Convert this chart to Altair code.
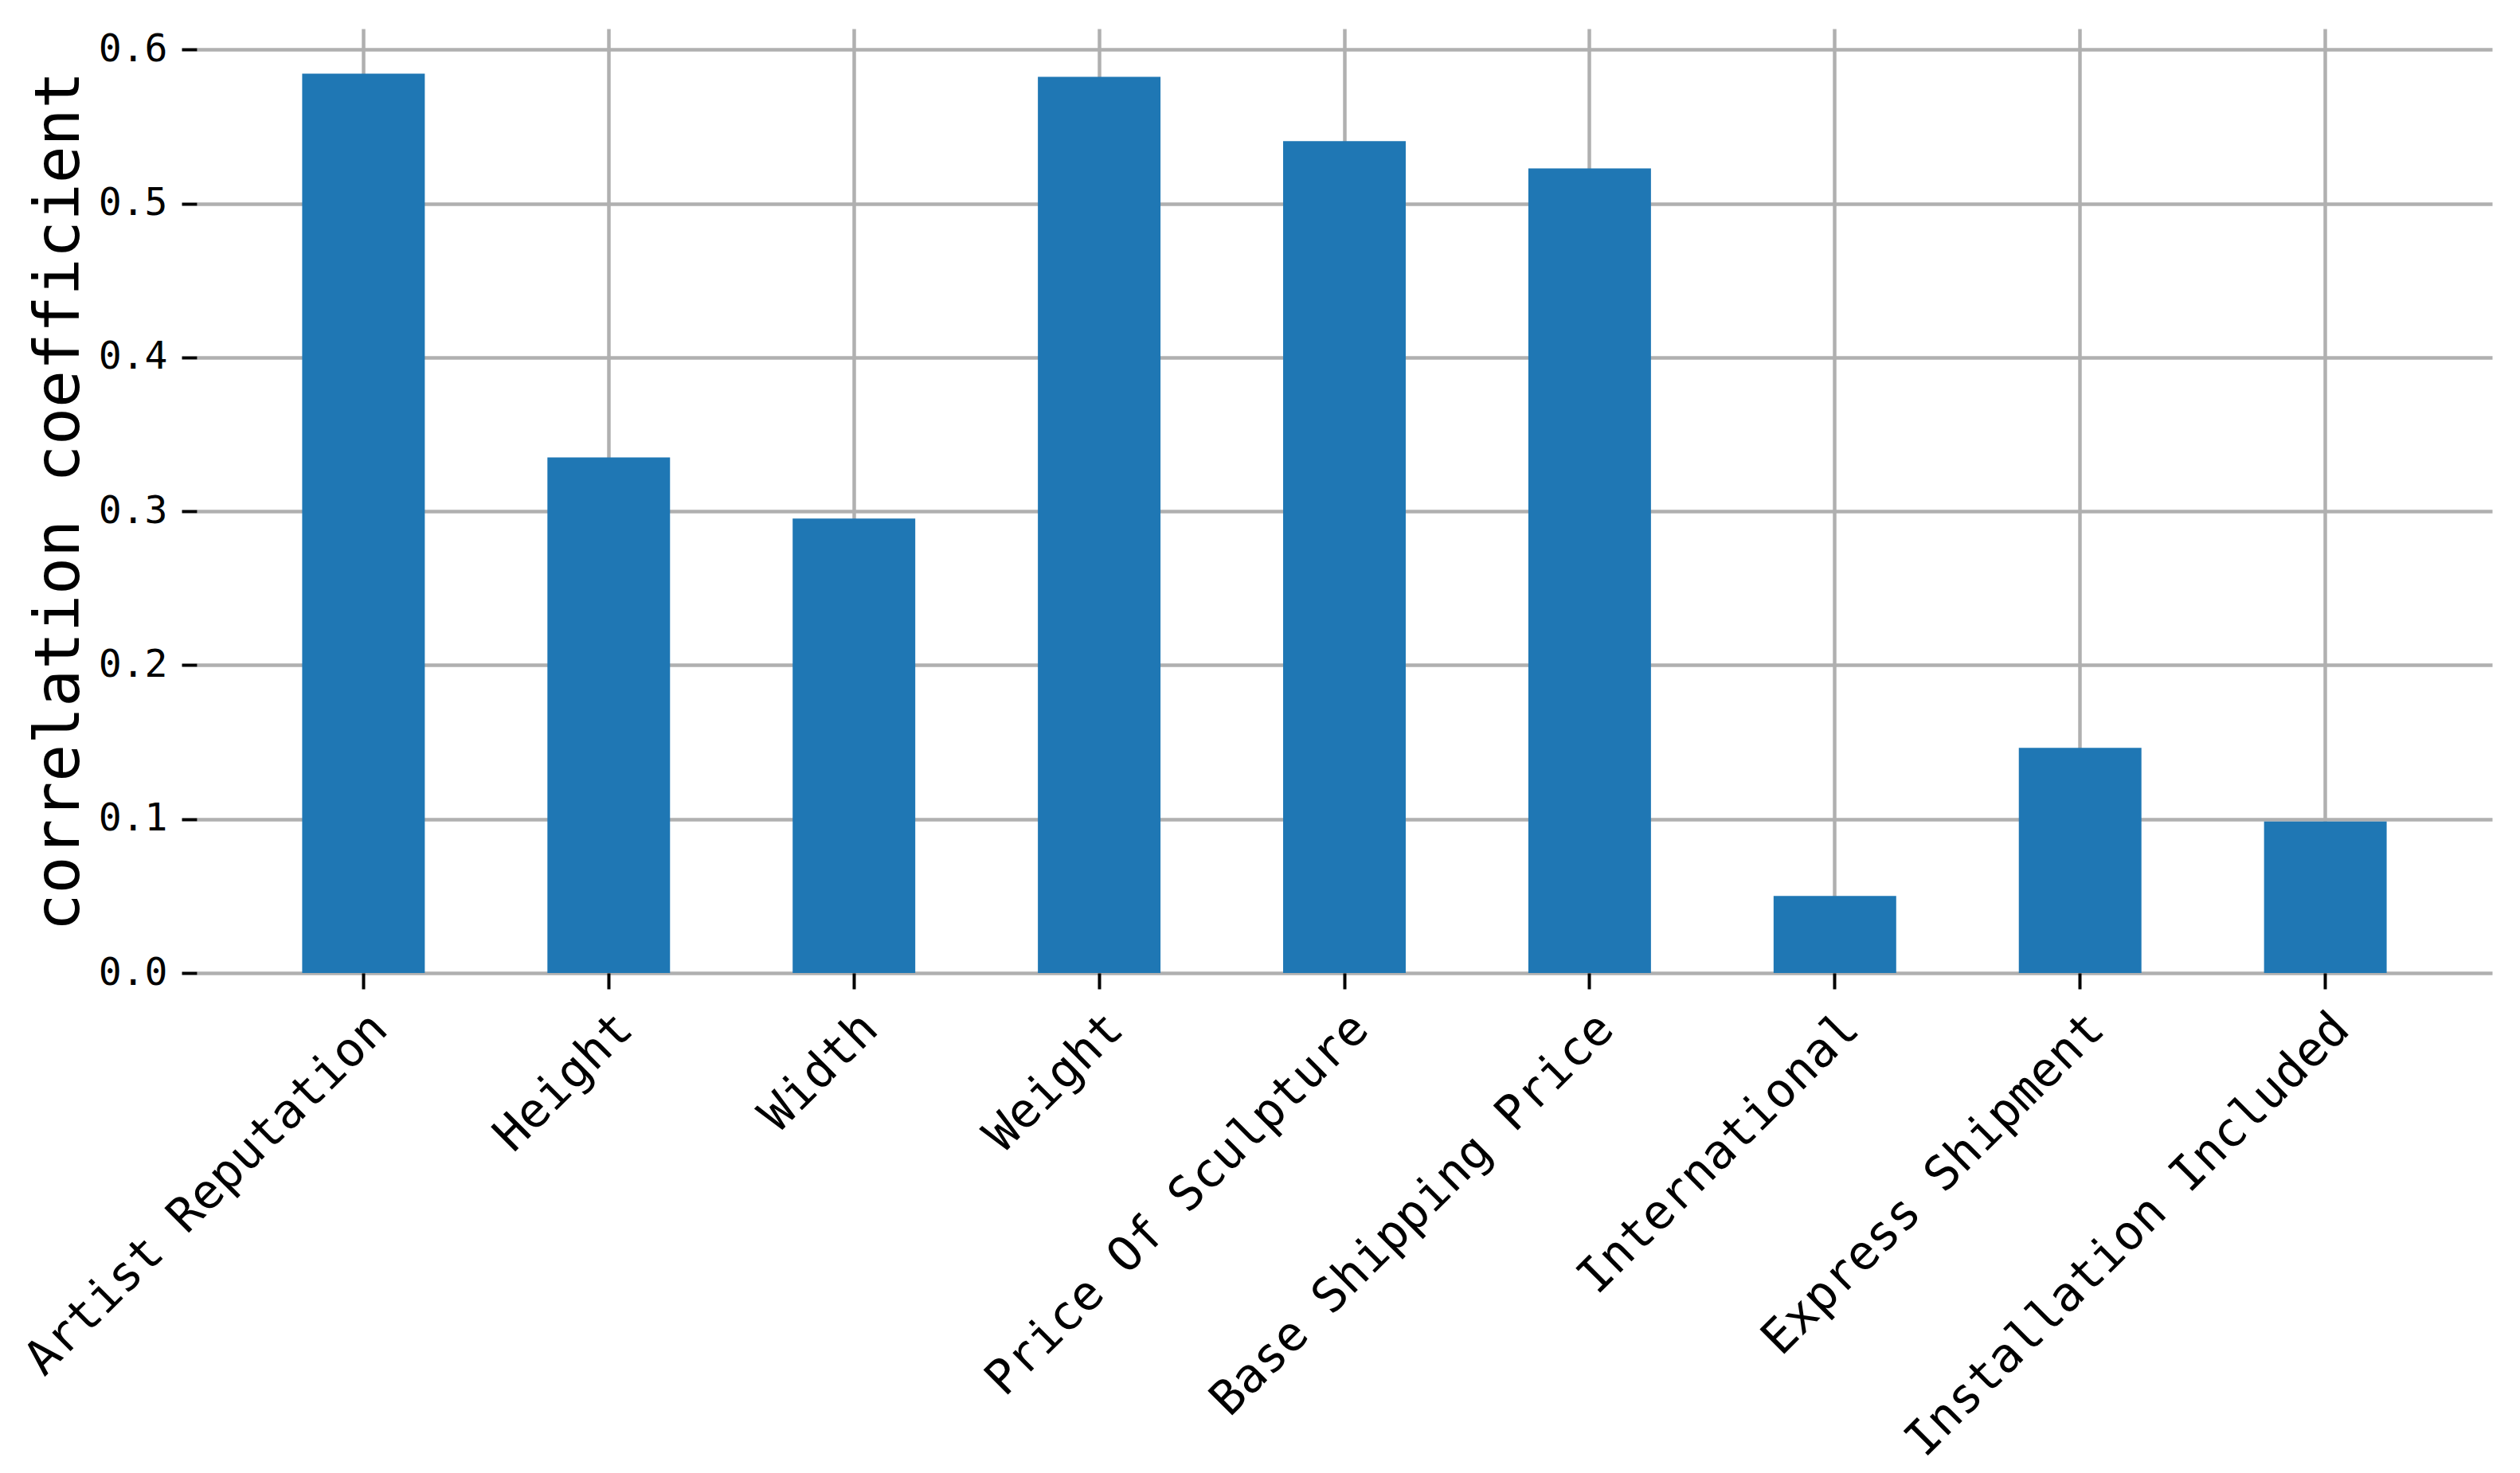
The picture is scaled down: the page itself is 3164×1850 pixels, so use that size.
import altair as alt
import pandas as pd

features = ["Artist Reputation", "Height", "Width", "Weight", "Price Of Sculpture",
            "Base Shipping Price", "International", "Express Shipment", "Installation Included"]
corr = [0.5844, 0.335, 0.2953, 0.5823, 0.5405, 0.5228, 0.0501, 0.1463, 0.0984]
y_ticks = [0.0, 0.1, 0.2, 0.3, 0.4, 0.5, 0.6]
y_max = 0.6136

df = pd.DataFrame({"feature": features, "corr": corr})

FONT = "DejaVu Sans Mono"

chart = alt.Chart(df).mark_bar(color="#1f77b4").encode(
    x=alt.X("feature:N", sort=features,
            scale=alt.Scale(paddingInner=0.5, paddingOuter=0.43),
            axis=alt.Axis(title=None, labelAngle=-45, labelAlign="right", labelBaseline="top",
                          labelFont=FONT, labelFontSize=60, labelColor="black",
                          labelPadding=20, labelOffset=0, labelLimit=0,
                          tickSize=20, tickWidth=4, tickColor="black",
                          domain=False, grid=True, gridColor="#b0b0b0", gridWidth=4.5,
                          bandPosition=0.5, labelOverlap=False)),
    y=alt.Y("corr:Q", scale=alt.Scale(domain=[0, y_max], nice=False, zero=True),
            axis=alt.Axis(title="correlation coefficient", values=y_ticks, format=".1f",
                          labelFont=FONT, labelFontSize=48, labelColor="black",
                          labelPadding=18, tickSize=19, tickWidth=4, tickColor="black",
                          domain=False, grid=True, gridColor="#b0b0b0", gridWidth=4.5,
                          titleFont=FONT, titleFontSize=78, titleFontWeight="normal",
                          titleColor="black", titleX=-149, titleY=593,
                          titleAngle=-90, titleAlign="center", titleBaseline="alphabetic")),
).properties(
    width=2882, height=1186,
    background="white",
    autosize=alt.AutoSizeParams(type="none"),
    padding={"left": 239, "top": 28, "right": 25, "bottom": 627},
).configure_view(strokeWidth=0, stroke="transparent")

chart.save("out.html", embed_options={"renderer": "svg", "actions": False})
